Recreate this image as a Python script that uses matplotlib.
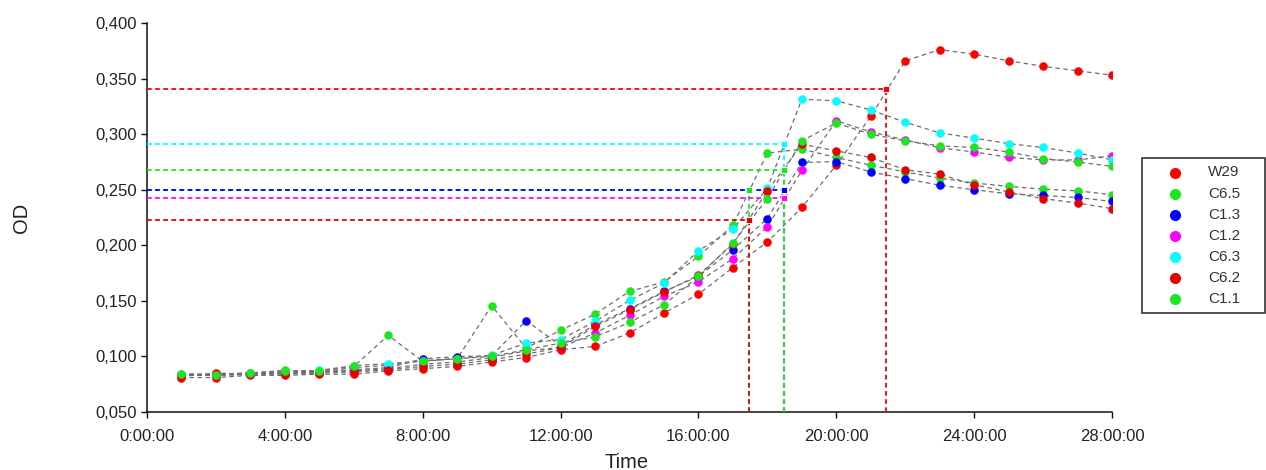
import numpy as np
import matplotlib
matplotlib.use("Agg")
import matplotlib.pyplot as plt
from matplotlib.patches import Rectangle
from matplotlib.lines import Line2D

plt.rcParams['font.family'] = ['Liberation Sans', 'DejaVu Sans']

# Sampling times (hours)
hours = list(range(1, 29))

# OD readings per strain
od_w29 = [0.081, 0.081, 0.083, 0.083, 0.084, 0.084, 0.087, 0.089, 0.091, 0.095,
          0.099, 0.106, 0.109, 0.121, 0.139, 0.156, 0.180, 0.203, 0.234, 0.272,
          0.316, 0.366, 0.376, 0.372, 0.366, 0.361, 0.357, 0.353]
od_c65 = [0.084, 0.084, 0.085, 0.0875, 0.086, 0.090, 0.092, 0.096, 0.098, 0.1456,
          0.1075, 0.1236, 0.138, 0.1585, 0.167, 0.190, 0.218, 0.283, 0.2865, 0.279,
          0.272, 0.266, 0.2605, 0.256, 0.253, 0.2505, 0.249, 0.2455]
od_c13 = [0.083, 0.083, 0.084, 0.085, 0.086, 0.088, 0.090, 0.0978, 0.0999, 0.1006,
          0.1321, 0.1098, 0.1285, 0.1429, 0.1585, 0.172, 0.196, 0.224, 0.2745, 0.2753,
          0.266, 0.260, 0.254, 0.250, 0.2463, 0.2448, 0.243, 0.2394]
od_c12 = [0.083, 0.083, 0.084, 0.085, 0.086, 0.087, 0.089, 0.093, 0.095, 0.099,
          0.1051, 0.108, 0.121, 0.1369, 0.154, 0.167, 0.188, 0.2166, 0.2673, 0.312,
          0.302, 0.2948, 0.2877, 0.284, 0.2792, 0.2768, 0.2768, 0.2805]
od_c63 = [0.083, 0.084, 0.085, 0.086, 0.0875, 0.0917, 0.0935, 0.096, 0.098, 0.101,
          0.112, 0.1152, 0.1315, 0.1504, 0.166, 0.195, 0.2145, 0.2514, 0.3314, 0.330,
          0.3218, 0.3107, 0.3011, 0.2964, 0.2915, 0.288, 0.283, 0.277]
od_c62 = [0.082, 0.085, 0.084, 0.084, 0.085, 0.086, 0.088, 0.091, 0.093, 0.097,
          0.102, 0.108, 0.127, 0.142, 0.158, 0.173, 0.201, 0.249, 0.291, 0.285,
          0.279, 0.268, 0.264, 0.2545, 0.248, 0.242, 0.238, 0.233]
od_c11 = [0.0845, 0.0836, 0.0852, 0.087, 0.087, 0.091, 0.119, 0.0956, 0.098, 0.100,
          0.106, 0.112, 0.1175, 0.1306, 0.1465, 0.172, 0.202, 0.242, 0.294, 0.310,
          0.300, 0.294, 0.2895, 0.288, 0.284, 0.278, 0.275, 0.271]

strains = ['W29', 'C6.5', 'C1.3', 'C1.2', 'C6.3', 'C6.2', 'C1.1']
series = [od_w29, od_c65, od_c13, od_c12, od_c63, od_c62, od_c11]
colors = ['#ff0000', '#1ee61e', '#0000ff', '#ff00ff', '#00ffff', '#e80000', '#1ee61e']

# Threshold OD and the time at which each curve reaches it
threshold_od = [0.341, 0.250, 0.250, 0.2425, 0.291, 0.223, 0.268]
threshold_time = [21.43, 17.46, 18.47, 18.47, 18.47, 17.46, 18.47]

W, H = 1266, 470
fig = plt.figure(figsize=(W / 100, H / 100), dpi=100)
ax = fig.add_axes([147 / W, 1 - 412 / H, (1112 - 147) / W, (412 - 23) / H])

ymin, ymax = 0.050, 0.400
ax.set_xlim(0, 28)
ax.set_ylim(ymin, ymax)

# Dashed grey connectors first, markers on top
for vals in series:
    ax.plot(hours, vals, color='#6e6e6e', lw=0.9, ls=(0, (3.6, 2.8)), zorder=2)

# Threshold guide lines
for od, t, c in zip(threshold_od, threshold_time, colors):
    ax.plot([0, t], [od, od], color=c, lw=1.3, ls=(0, (2.6, 1.9)), zorder=3)
    ax.plot([t, t], [ymin, od], color=c, lw=1.3, ls=(0, (2.6, 1.9)), zorder=3)
    ax.plot([t], [od], marker='s', ms=5, mfc=c, mec='white', mew=0.6, zorder=4)

for vals, c in zip(series, colors):
    ax.plot(hours, vals, ls='none', marker='o', ms=5.8, mfc=c, mec=c, mew=0.3, zorder=5)

for side in ('top', 'right'):
    ax.spines[side].set_visible(False)
for side in ('left', 'bottom'):
    ax.spines[side].set_linewidth(1.1)
    ax.spines[side].set_color('#111111')

xticks = list(range(0, 29, 4))
ax.set_xticks(xticks)
ax.set_xticklabels([f"{h}:00:00" for h in xticks])
yticks = np.arange(0.05, 0.4001, 0.05)
ax.set_yticks(yticks)
ax.set_yticklabels([f"{v:.3f}".replace('.', ',') for v in yticks])
ax.tick_params(axis='both', direction='out', length=4.5, width=1.0,
               labelsize=12, labelcolor='#222222', color='#111111', pad=3)
ax.tick_params(axis='x', pad=8)

fig.text(22 / W, 1 - 218 / H, 'OD', rotation=90, ha='center', va='center',
         fontsize=14.5, color='#222222')
fig.text(627 / W, 1 - 462 / H, 'Time', ha='center', va='center',
         fontsize=14.5, color='#222222')

# Legend box
lx0, ly0, lx1, ly1 = 1142, 158, 1265, 313
fig.patches.append(Rectangle((lx0 / W, 1 - ly1 / H), (lx1 - lx0) / W, (ly1 - ly0) / H,
                             transform=fig.transFigure, fill=False,
                             edgecolor='#333333', lw=1.2))
for i, (name, c) in enumerate(zip(strains, colors)):
    yy = 1 - (172.5 + 21.1 * i) / H
    fig.lines.append(Line2D([1175 / W], [yy], transform=fig.transFigure, ls='none',
                            marker='o', ms=7, mfc=c, mec=c))
    fig.text(1208 / W, yy, name, ha='left', va='center', fontsize=11,
             color='#333333')

fig.savefig('out.png', dpi=100)
